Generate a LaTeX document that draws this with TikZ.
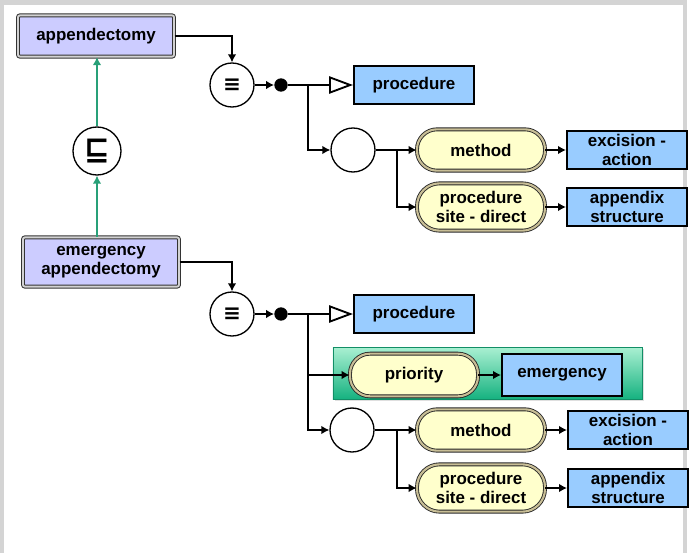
\documentclass[tikz,border=0pt]{standalone}
\usepackage{fontspec}
\setmainfont{Liberation Sans}
\newfontfamily\symfont{DejaVu Sans}
\usetikzlibrary{arrows.meta, positioning, shadows}
\definecolor{conceptlav}{RGB}{204, 204, 255}
\definecolor{valueblue}{RGB}{153, 204, 255}
\definecolor{roleyellow}{RGB}{255, 255, 204}
\definecolor{roleband}{RGB}{200, 190, 150}
\definecolor{groupgreentop}{RGB}{170, 240, 210}
\definecolor{groupgreenbot}{RGB}{22, 178, 128}
\definecolor{isagreen}{RGB}{40, 160, 120}
\definecolor{framegray}{RGB}{212, 212, 212}

\begin{document}
\begin{tikzpicture}[
    x=0.75pt, y=-0.75pt,
    every node/.style={font=\fontsize{12.7}{14}\selectfont\bfseries, align=center},
    concept/.style={rectangle, rounded corners=1.5pt, draw=black!80, line width=0.75pt,
                    double=gray!35, double distance=1.4pt, fill=conceptlav,
                    minimum width=117pt, inner sep=2pt},
    value/.style={rectangle, draw=black, line width=1.5pt, fill=valueblue,
                  minimum width=90pt, minimum height=29pt, inner sep=2pt},
    role/.style={rectangle, rounded corners=15pt, draw=black!85, line width=0.65pt,
                 double=roleband, double distance=1.6pt, fill=roleyellow,
                 minimum width=96pt, inner sep=2pt},
    oper/.style={circle, draw, line width=1pt, minimum size=33pt, inner sep=0pt,
                 font=\symfont\bfseries\fontsize{16}{16}\selectfont},
    dot/.style={circle, fill=black, minimum size=10pt, inner sep=0pt},
    group/.style={rectangle, draw=groupgreenbot!80!black, line width=0.4pt,
                  top color=groupgreentop, bottom color=groupgreenbot,
                  minimum width=232pt, minimum height=39pt,
                  drop shadow={opacity=0.25, shadow xshift=1.5pt, shadow yshift=-1.5pt}},
    arr/.style={-{Latex[length=6pt, width=6.5pt]}, line width=1.4pt},
    isa/.style={-{Latex[length=6pt, width=6.5pt]}, line width=1.4pt, isagreen},
    def/.style={-{Triangle[open, fill=white, length=18pt, width=13pt]}, line width=1.4pt},
]
\useasboundingbox (0,0) rectangle (689,553);

% Frame
\draw[framegray, line width=3pt] (2,553) -- (2,2.5) -- (685,2.5) -- (685,553);

% Concepts and subsumption
\node[concept, minimum height=31pt] (app) at (96,36) {appendectomy};
\node[concept, minimum height=37pt] (emapp) at (101,262) {emergency\\appendectomy};
\node[oper, minimum size=36pt, font=\symfont\bfseries\fontsize{23}{23}\selectfont] (sub) at (97,151) {⊑};

\draw[isa] (sub |- emapp.north) -- (sub.south);
\draw[isa] (sub.north) -- (sub |- app.south);

% Definition of appendectomy
\node[oper] (eq1) at (232,85) {≡};
\node[dot] (dot1) at (281,85) {};
\node[value] (proc1) at (414,85) {procedure};
\node[oper] (and1) at (353,150) {};
\node[role, minimum height=31pt] (meth1) at (481,150) {method};
\node[role, minimum height=35.5pt, rounded corners=17pt] (site1) at (481,207) {procedure\\site - direct};
\node[value] (exc1) at (627,150) {excision -\\action};
\node[value] (appx1) at (627,207) {appendix\\structure};
\coordinate (br1) at (308,85);
\coordinate (j1) at (397,150);

\draw[arr] (app.east) -| (eq1.north);
\draw[arr] (eq1) -- (dot1);
\draw[def] (dot1) -- (proc1);
\draw[arr] (br1) |- (and1);
\draw[arr] (and1) -- (meth1);
\draw[arr] (j1) |- (site1);
\draw[arr] (meth1) -- (exc1);
\draw[arr] (site1) -- (appx1);

% Definition of emergency appendectomy
\node[oper] (eq2) at (232,314) {≡};
\node[dot] (dot2) at (281,314) {};
\node[value] (proc2) at (414,314) {procedure};
\node[group] (grp) at (487.5,373) {};
\node[role, minimum height=32pt] (prio) at (414,375) {priority};
\node[value, minimum height=31pt] (emerg) at (562,375) {emergency};
\node[oper] (and2) at (352,430) {};
\node[role, minimum height=31pt] (meth2) at (481,430) {method};
\node[role, minimum height=35.5pt, rounded corners=17pt] (site2) at (481,488) {procedure\\site - direct};
\node[value] (exc2) at (628,430) {excision -\\action};
\node[value] (appx2) at (628,488) {appendix\\structure};
\coordinate (br2) at (308,314);
\coordinate (j2) at (397,430);

\draw[arr] (emapp.east) -| (eq2.north);
\draw[arr] (eq2) -- (dot2);
\draw[def] (dot2) -- (proc2);
\draw[arr] (br2) |- (prio);
\draw[arr] (br2) |- (and2);
\draw[arr] (prio) -- (emerg);
\draw[arr] (and2) -- (meth2);
\draw[arr] (j2) |- (site2);
\draw[arr] (meth2) -- (exc2);
\draw[arr] (site2) -- (appx2);

\end{tikzpicture}
\end{document}
